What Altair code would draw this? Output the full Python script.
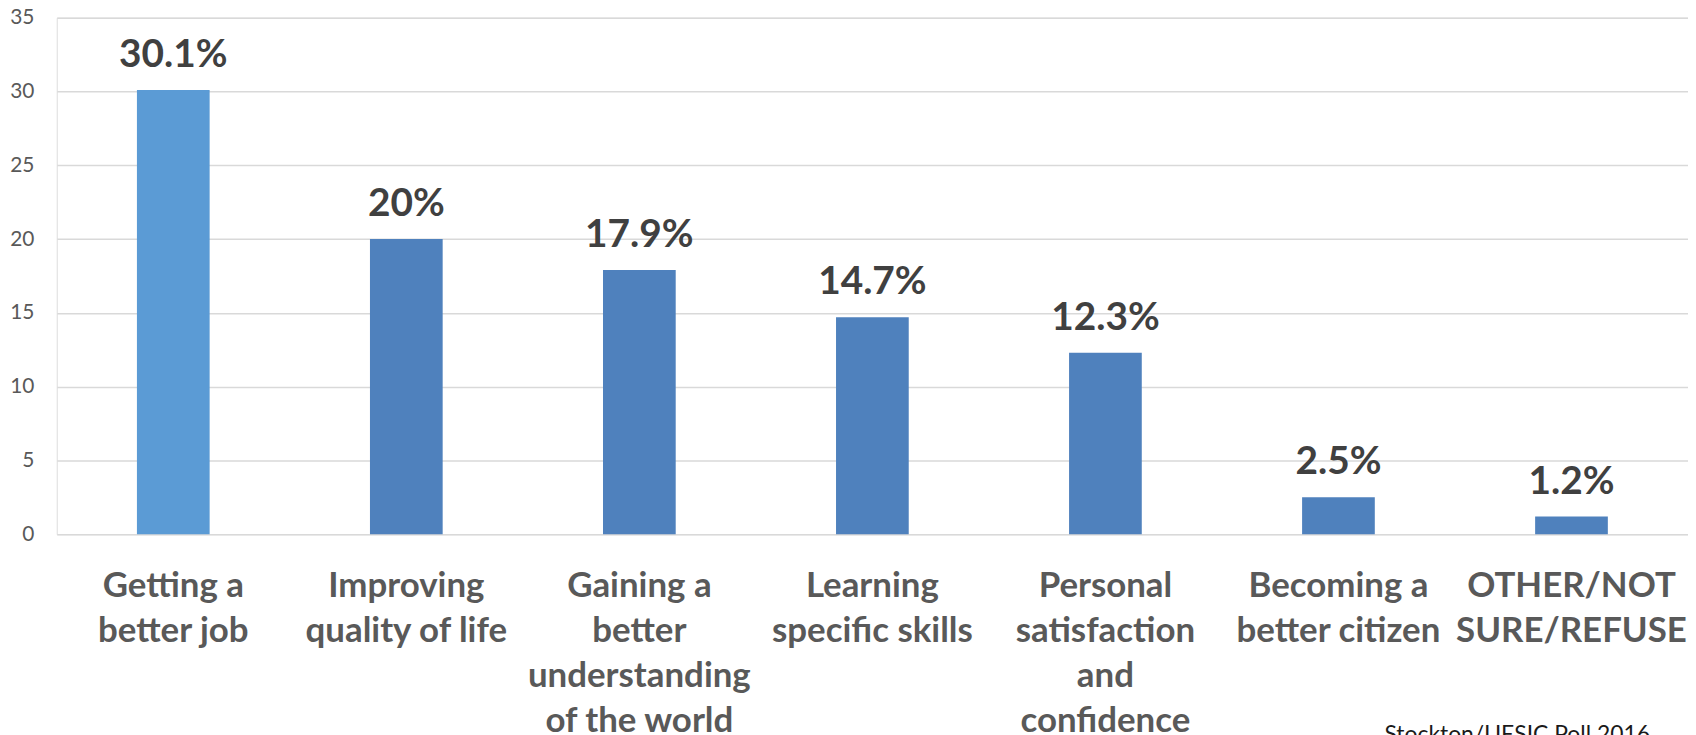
import altair as alt
import pandas as pd

categories = [
    "Getting a|better job",
    "Improving|quality of life",
    "Gaining a|better|understanding|of the world",
    "Learning|specific skills",
    "Personal|satisfaction|and|confidence",
    "Becoming a|better citizen",
    "OTHER/NOT|SURE/REFUSE",
]
values = [30.1, 20, 17.9, 14.7, 12.3, 2.5, 1.2]
value_labels = ["30.1%", "20%", "17.9%", "14.7%", "12.3%", "2.5%", "1.2%"]
bar_colors = ["#5B9BD5", "#4F81BD", "#4F81BD", "#4F81BD", "#4F81BD", "#4F81BD", "#4F81BD"]
y_ticks = [0, 5, 10, 15, 20, 25, 30, 35]
source_text = "Stockton/UESIC Poll 2016"

df = pd.DataFrame({"cat": categories, "val": values, "lab": value_labels, "col": bar_colors})

W, H = 1639, 519

x = alt.X(
    "cat:N",
    sort=categories,
    title=None,
    scale=alt.Scale(paddingInner=0.688, paddingOuter=0.344),
    axis=alt.Axis(
        labelExpr="split(datum.label, '|')",
        labelAngle=0,
        labelFont="Lato",
        labelFontWeight="bold",
        labelFontSize=35,
        labelColor="#595959",
        labelLineHeight=45,
        labelPadding=35,
        labelBaseline="top",
        labelLimit=400,
        ticks=False,
        domain=False,
        grid=False,
    ),
)
y = alt.Y(
    "val:Q",
    title=None,
    scale=alt.Scale(domain=[0, 35], nice=False),
    axis=alt.Axis(
        values=y_ticks,
        labelFont="Lato",
        labelFontSize=21,
        labelColor="#595959",
        labelPadding=23,
        ticks=False,
        domain=False,
        gridColor="#D9D9D9",
        gridWidth=1.5,
    ),
)

bars = alt.Chart(df).mark_bar().encode(x=x, y=y, color=alt.Color("col:N", scale=None))

texts = alt.Chart(df).mark_text(
    font="Lato", fontWeight="bold", fontSize=39, color="#404040", baseline="alphabetic", dy=-23
).encode(x=alt.X("cat:N", sort=categories), y="val:Q", text="lab:N")

src = alt.Chart(pd.DataFrame({"t": [source_text]})).mark_text(
    font="Lato", fontSize=23, color="#1a1a1a", align="left", baseline="alphabetic"
).encode(x=alt.value(1334), y=alt.value(728), text="t:N")

chart = (
    alt.layer(bars, texts, src)
    .properties(
        width=W,
        height=H,
        autosize=alt.AutoSizeParams(type="none"),
        padding={"left": 49, "top": 8, "right": 0, "bottom": 200},
    )
    .configure_view(stroke=None)
    .configure(background="white")
)

chart.save("out.html", embed_options={"renderer": "svg", "actions": False})
